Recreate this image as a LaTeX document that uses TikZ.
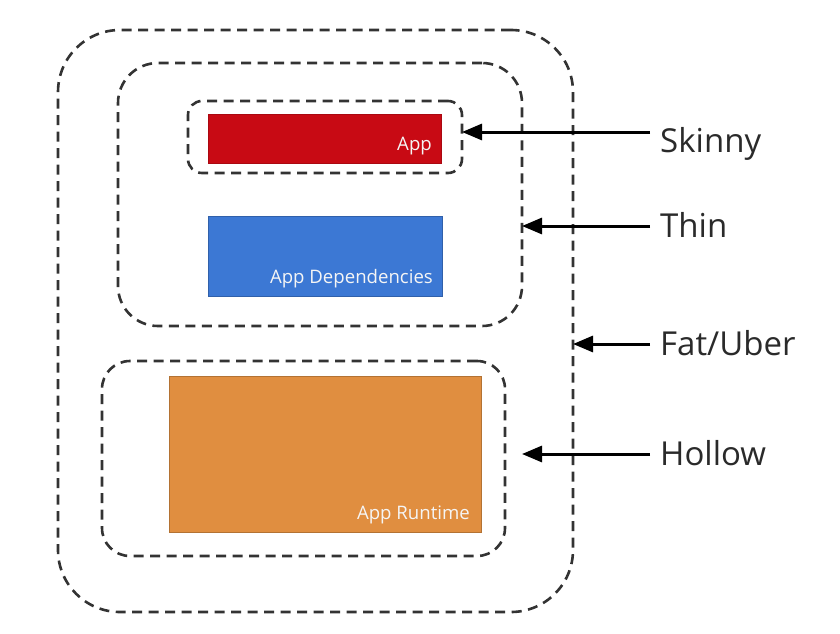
\documentclass[tikz,border=0pt]{standalone}
\usepackage{fontspec}
\newfontfamily\lblfont{Open Sans}
\usetikzlibrary{arrows.meta}
\definecolor{appred}{HTML}{C80A14}
\definecolor{depblue}{HTML}{3C78D4}
\definecolor{rtorange}{HTML}{E08E40}
\definecolor{dashgray}{HTML}{333333}
\definecolor{txtgray}{HTML}{2A2A2A}
\tikzset{
  container/.style={draw=dashgray, line width=2.6pt, dash pattern=on 10pt off 6.5pt,
    rectangle, inner sep=0pt, outer sep=0pt},
  layerbox/.style={rectangle, inner sep=0pt, outer sep=0pt, line width=0.8pt},
  inlabel/.style={text=white!92!gray, font=\lblfont\fontsize{18.6}{18.6}\selectfont, inner sep=0pt},
  sidelabel/.style={text=txtgray, font=\lblfont\fontsize{33}{33}\selectfont, inner sep=0pt},
  arr/.style={draw=black, line width=3pt, -{Triangle[length=20pt,width=16pt]}},
}
\begin{document}
\begin{tikzpicture}[x=1pt, y=-1pt]
\useasboundingbox (0,0) rectangle (840,634);
% containers
\node[container, minimum width=515, minimum height=582, rounded corners=62] (fat) at (315.5,321) {};
\node[container, minimum width=404, minimum height=263, rounded corners=40] (thin) at (320,194.5) {};
\node[container, minimum width=274, minimum height=72, rounded corners=14] (skinny) at (325,137) {};
\node[container, minimum width=403, minimum height=195, rounded corners=28] (hollow) at (303.5,458.5) {};
% layers
\node[layerbox, fill=appred, draw=appred!85!black, minimum width=233, minimum height=49] (app) at (324.5,138.5) {};
\node[layerbox, fill=depblue, draw=depblue!80!black, minimum width=234, minimum height=80] (deps) at (325,256) {};
\node[layerbox, fill=rtorange, draw=rtorange!80!black, minimum width=312, minimum height=156] (rt) at (325,454) {};
\node[inlabel, anchor=base east] (applbl) at ([xshift=-9pt,yshift=13pt]app.south east) {App};
\node[inlabel, anchor=base east] (depslbl) at ([xshift=-9pt,yshift=13pt]deps.south east) {App Dependencies};
\node[inlabel, anchor=base east] (rtlbl) at ([xshift=-11pt,yshift=13pt]rt.south east) {App Runtime};
% side labels
\node[sidelabel, anchor=base west] (lskinny) at (660,152) {Skinny};
\node[sidelabel, anchor=base west] (lthin) at (660,237) {Thin};
\node[sidelabel, anchor=base west] (lfat) at (660,355) {Fat/Uber};
\node[sidelabel, anchor=base west] (lhollow) at (660,465) {Hollow};
% arrow ends
\coordinate (skT) at (650,132);  \coordinate (skH) at (skinny.east |- skT);
\coordinate (thT) at (650,226);  \coordinate (thH) at (thin.east |- thT);
\coordinate (faT) at (650,344);  \coordinate (faH) at (fat.east |- faT);
\coordinate (hoT) at (650,454);  \coordinate (hoH) at (522,454);
\draw[arr] (skT) -- (skH);
\draw[arr] (thT) -- (thH);
\draw[arr] (faT) -- (faH);
\draw[arr] (hoT) -- (hoH);
\end{tikzpicture}
\end{document}
